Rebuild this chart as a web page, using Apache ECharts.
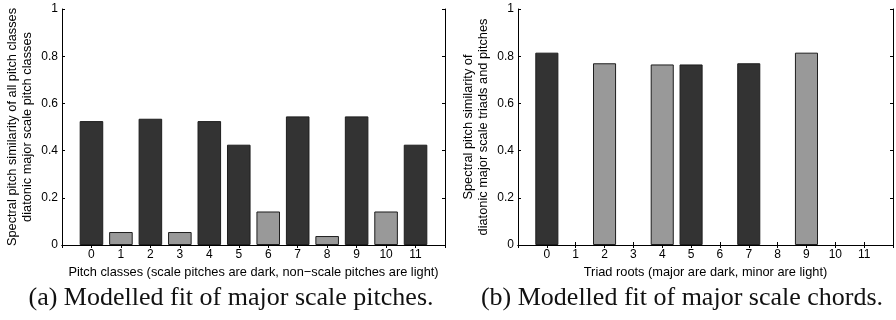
<!DOCTYPE html>
<html>
<head>
<meta charset="utf-8">
<script src="https://cdn.jsdelivr.net/npm/echarts@6/dist/echarts.min.js"></script>
<style>
html,body{margin:0;padding:0;background:#fff;}
#c{width:896px;height:320px;}
</style>
</head>
<body>
<div id="c"></div>
<script>
// ---- data ----
const pitchCategories = ['0','1','2','3','4','5','6','7','8','9','10','11'];
const pitchValues = [0.525, 0.055, 0.535, 0.055, 0.525, 0.425, 0.142, 0.545, 0.038, 0.545, 0.142, 0.425];
const pitchInScale = [1, 0, 1, 0, 1, 1, 0, 1, 0, 1, 0, 1];

const triadCategories = ['0','1','2','3','4','5','6','7','8','9','10','11'];
const triadValues = [0.815, null, 0.77, null, 0.765, 0.765, null, 0.77, null, 0.815, null, null];
const triadMajor = [1, 0, 0, 0, 0, 1, 0, 1, 0, 0, 0, 0];

const leftYName = 'Spectral pitch similarity of all pitch classes\ndiatonic major scale pitch classes';
const leftXName = 'Pitch classes (scale pitches are dark, non\u2212scale pitches are light)';
const rightYName = 'Spectral pitch similarity of\ndiatonic major scale triads and pitches';
const rightXName = 'Triad roots (major are dark, minor are light)';
const captionA = '(a) Modelled fit of major scale pitches.';
const captionB = '(b) Modelled fit of major scale chords.';

// ---- styles ----
const DARK = '#333333', LIGHT = '#999999', EDGE = '#1e1e1e';
const FONT = 'Liberation Sans, Arial, Helvetica, sans-serif';
const TICK_FS = 12, NAME_FS = 12.8;
const axisLine = {show: true, lineStyle: {color: '#000', width: 1}};
const tickIn = {show: true, inside: true, length: 3, lineStyle: {color: '#000'}};

function padCats(c){ return [''].concat(c, ['']); }
function padData(vals, darkFlags){
  const d = [null];
  vals.forEach((v, i) => {
    if (v === null) { d.push(null); return; }
    d.push({value: v, itemStyle: {color: darkFlags[i] ? DARK : LIGHT, borderColor: EDGE, borderWidth: 1}});
  });
  d.push(null);
  return d;
}

const grids = [
  {left: 62, top: 9, width: 383, height: 236},
  {left: 518, top: 9, width: 383, height: 236}
];

function xAxes(gi, cats, name){
  return [
    {type: 'category', gridIndex: gi, data: padCats(cats), boundaryGap: false, position: 'bottom',
     axisLine: axisLine, axisTick: Object.assign({interval: 0}, tickIn),
     axisLabel: {interval: 0, color: '#000', fontSize: TICK_FS, fontFamily: FONT, margin: 4},
     name: name, nameLocation: 'middle', nameGap: 17,
     nameTextStyle: {color: '#000', fontSize: NAME_FS, fontFamily: FONT},
     splitLine: {show: false}},
    {type: 'category', gridIndex: gi, data: padCats(cats), boundaryGap: false, position: 'top',
     axisLine: axisLine, axisTick: Object.assign({interval: 0}, tickIn),
     axisLabel: {show: false}, splitLine: {show: false}}
  ];
}
function yAxes(gi, name){
  return [
    {type: 'value', gridIndex: gi, min: 0, max: 1, interval: 0.2, position: 'left',
     axisLine: axisLine, axisTick: tickIn,
     axisLabel: {color: '#000', fontSize: TICK_FS, fontFamily: FONT, margin: 4,
       formatter: v => (v === 0 || v === 1) ? String(v) : v.toFixed(1)},
     name: name, nameLocation: 'middle', nameRotate: 90, nameGap: 27,
     nameTextStyle: {color: '#000', fontSize: NAME_FS, fontFamily: FONT, lineHeight: 15},
     splitLine: {show: false}},
    {type: 'value', gridIndex: gi, min: 0, max: 1, interval: 0.2, position: 'right',
     axisLine: axisLine, axisTick: tickIn, axisLabel: {show: false}, splitLine: {show: false}}
  ];
}

const capFont = '26px "Liberation Serif", "Times New Roman", serif';
const chart = echarts.init(document.getElementById('c'), null, {renderer: 'canvas'});
chart.setOption({
  animation: false,
  backgroundColor: '#fff',
  grid: grids,
  xAxis: xAxes(0, pitchCategories, leftXName).concat(xAxes(1, triadCategories, rightXName)),
  yAxis: yAxes(0, leftYName).concat(yAxes(1, rightYName)),
  series: [
    {type: 'bar', xAxisIndex: 0, yAxisIndex: 0, barWidth: '80%', data: padData(pitchValues, pitchInScale)},
    {type: 'bar', xAxisIndex: 2, yAxisIndex: 2, barWidth: '80%', data: padData(triadValues, triadMajor)}
  ],
  graphic: [
    {type: 'text', x: 231, y: 298, style: {text: captionA, align: 'center', verticalAlign: 'middle',
      font: capFont, fill: '#111'}},
    {type: 'text', x: 682, y: 298, style: {text: captionB, align: 'center', verticalAlign: 'middle',
      font: capFont, fill: '#111'}}
  ]
});
</script>
</body>
</html>
